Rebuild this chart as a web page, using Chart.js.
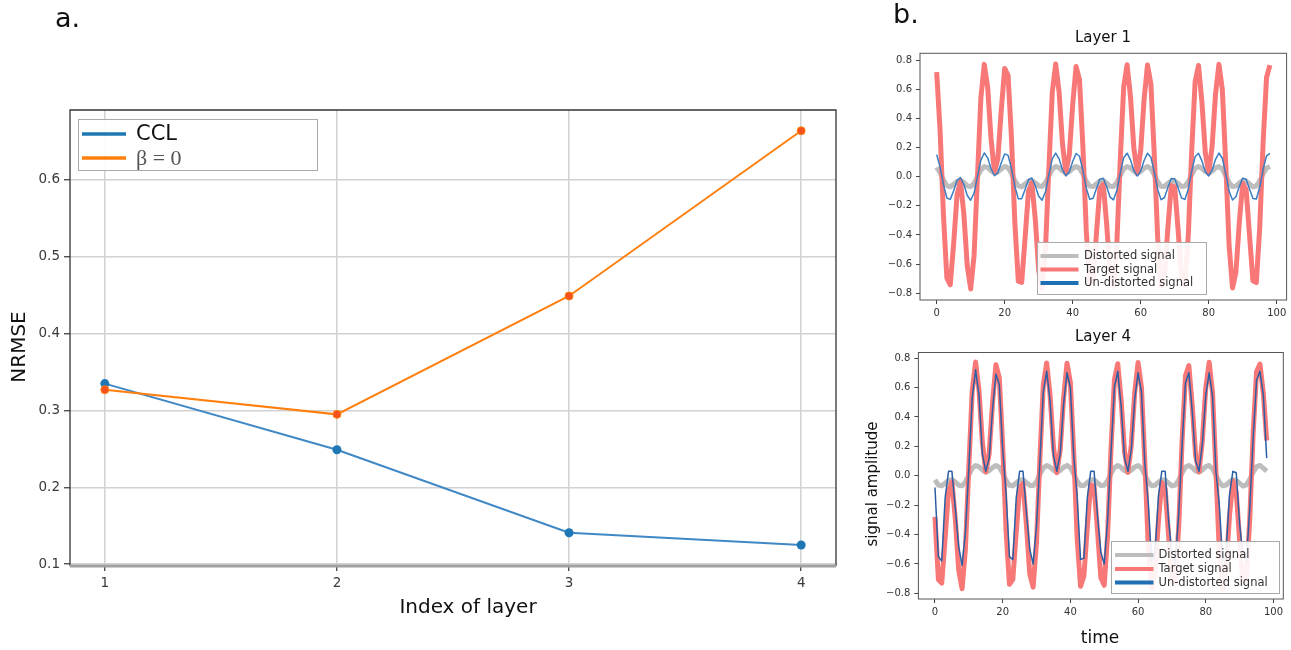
<!DOCTYPE html>
<html>
<head>
<meta charset="utf-8">
<script src="https://cdn.jsdelivr.net/npm/chart.js@4.4.0/dist/chart.umd.min.js"></script>
<style>
  body { margin: 0; background: #fff; }
  #wrap { position: relative; width: 1291px; height: 650px; overflow: hidden; font-family: 'DejaVu Sans', sans-serif; }
  canvas { position: absolute; }
  .panel-tag { position: absolute; color: #111; font-size: 27px; }
</style>
</head>
<body>
<div id="wrap">
  <canvas id="nrmse" width="860" height="650" style="left:0;top:0"></canvas>
  <canvas id="layer1" width="431" height="325" style="left:860px;top:0"></canvas>
  <canvas id="layer4" width="431" height="325" style="left:860px;top:325px"></canvas>
  <div class="panel-tag" style="left:55px;top:2px">a.</div>
  <div class="panel-tag" style="left:893px;top:-2px">b.</div>
</div>
<script>
// ---- panel a: NRMSE per layer ----
const layerIndex = [1, 2, 3, 4];
const nrmseCCL = [0.335, 0.249, 0.141, 0.125];
const nrmseBeta0 = [0.327, 0.295, 0.449, 0.664];
const nrmseTicks = [0.1, 0.2, 0.3, 0.4, 0.5, 0.6];

// ---- panel b: signals over time ----
const timeSteps = Array.from({ length: 99 }, (_, i) => i);
const timeTicks = [0, 20, 40, 60, 80, 100];
const ampTicks = [-0.8, -0.6, -0.4, -0.2, 0, 0.2, 0.4, 0.6, 0.8];

const target1 = [
  0.717, 0.319, -0.264, -0.695, -0.742, -0.458, -0.124, -0.030, -0.258, -0.612,
  -0.770, -0.540, 0.000, 0.540, 0.770, 0.612, 0.258, 0.030, 0.124, 0.458,
  0.742, 0.695, 0.264, -0.319, -0.717, -0.725, -0.421, -0.100, -0.041, -0.293,
  -0.642, -0.768, -0.496, 0.060, 0.580, 0.773, 0.581, 0.225, 0.025, 0.150,
  0.495, 0.755, 0.666, 0.207, -0.374, -0.738, -0.705, -0.385, -0.079, -0.052,
  -0.330, -0.669, -0.757, -0.449, 0.120, 0.617, 0.767, 0.547, 0.193, 0.021,
  0.179, 0.530, 0.765, 0.635, 0.148, -0.424, -0.752, -0.682, -0.347, -0.061,
  -0.070, -0.366, -0.694, -0.745, -0.399, 0.179, 0.651, 0.762, 0.512, 0.164,
  0.023, 0.209, 0.565, 0.770, 0.599, 0.089, -0.474, -0.763, -0.655, -0.312,
  -0.046, -0.088, -0.403, -0.715, -0.727, -0.347, 0.236, 0.680, 0.765
];
const undistorted1 = [
  0.151, 0.067, -0.055, -0.146, -0.156, -0.096, -0.026, -0.006, -0.054, -0.129,
  -0.162, -0.113, 0.000, 0.113, 0.162, 0.129, 0.054, 0.006, 0.026, 0.096,
  0.156, 0.146, 0.055, -0.067, -0.151, -0.152, -0.088, -0.021, -0.009, -0.062,
  -0.135, -0.161, -0.104, 0.013, 0.122, 0.162, 0.122, 0.047, 0.005, 0.032,
  0.104, 0.159, 0.140, 0.043, -0.079, -0.155, -0.148, -0.081, -0.017, -0.011,
  -0.069, -0.140, -0.159, -0.094, 0.025, 0.130, 0.161, 0.115, 0.041, 0.004,
  0.038, 0.111, 0.161, 0.133, 0.031, -0.089, -0.158, -0.143, -0.073, -0.013,
  -0.015, -0.077, -0.146, -0.156, -0.084, 0.038, 0.137, 0.160, 0.108, 0.034,
  0.005, 0.044, 0.119, 0.162, 0.126, 0.019, -0.100, -0.160, -0.138, -0.066,
  -0.010, -0.018, -0.085, -0.150, -0.153, -0.073, 0.050, 0.143, 0.160
];
const distorted1 = [
  0.063, 0.028, -0.023, -0.061, -0.070, -0.053, -0.032, -0.026, -0.040, -0.063,
  -0.069, -0.046, 0.000, 0.046, 0.069, 0.063, 0.040, 0.026, 0.032, 0.053,
  0.070, 0.061, 0.023, -0.028, -0.063, -0.069, -0.051, -0.031, -0.026, -0.043,
  -0.064, -0.068, -0.042, 0.005, 0.050, 0.070, 0.061, 0.039, 0.025, 0.034,
  0.056, 0.070, 0.058, 0.018, -0.032, -0.065, -0.068, -0.049, -0.029, -0.027,
  -0.045, -0.066, -0.067, -0.039, 0.010, 0.053, 0.070, 0.059, 0.037, 0.025,
  0.036, 0.058, 0.070, 0.055, 0.012, -0.036, -0.066, -0.067, -0.046, -0.028,
  -0.029, -0.047, -0.067, -0.065, -0.034, 0.015, 0.056, 0.070, 0.057, 0.035,
  0.025, 0.038, 0.060, 0.070, 0.052, 0.007, -0.041, -0.068, -0.065, -0.044,
  -0.027, -0.030, -0.050, -0.069, -0.064, -0.030, 0.020, 0.059, 0.070
];

const target4 = [
  -0.280, -0.705, -0.730, -0.421, -0.100, -0.041, -0.293, -0.642, -0.768, -0.496,
  0.060, 0.580, 0.773, 0.581, 0.225, 0.025, 0.150, 0.495, 0.755, 0.666,
  0.207, -0.374, -0.738, -0.705, -0.385, -0.079, -0.052, -0.330, -0.669, -0.757,
  -0.449, 0.120, 0.617, 0.767, 0.547, 0.193, 0.021, 0.179, 0.530, 0.765,
  0.635, 0.148, -0.424, -0.752, -0.682, -0.347, -0.061, -0.070, -0.366, -0.694,
  -0.745, -0.399, 0.179, 0.651, 0.762, 0.512, 0.164, 0.023, 0.209, 0.565,
  0.770, 0.599, 0.089, -0.474, -0.763, -0.655, -0.312, -0.046, -0.088, -0.403,
  -0.715, -0.727, -0.347, 0.236, 0.680, 0.749, 0.476, 0.136, 0.027, 0.242,
  0.597, 0.772, 0.562, 0.030, -0.518, -0.769, -0.628, -0.276, -0.035, -0.112,
  -0.439, -0.735, -0.707, -0.292, 0.292, 0.707, 0.760, 0.560, 0.240
];
const undistorted4 = [
  -0.08, -0.55, -0.58, -0.15, 0.03, 0.03, -0.22, -0.48, -0.61, -0.38,
  0.05, 0.53, 0.72, 0.55, 0.15, 0.03, 0.12, 0.45, 0.69, 0.62,
  0.18, -0.12, -0.55, -0.57, -0.15, 0.03, 0.03, -0.25, -0.50, -0.60,
  -0.34, 0.10, 0.57, 0.71, 0.51, 0.14, 0.03, 0.15, 0.49, 0.70,
  0.60, 0.13, -0.14, -0.57, -0.56, -0.15, 0.03, 0.03, -0.27, -0.52,
  -0.60, -0.30, 0.16, 0.60, 0.71, 0.47, 0.12, 0.03, 0.18, 0.52,
  0.70, 0.57, 0.08, -0.18, -0.58, -0.53, -0.14, 0.03, 0.03, -0.30,
  -0.54, -0.59, -0.26, 0.21, 0.63, 0.70, 0.44, 0.10, 0.03, 0.22,
  0.55, 0.70, 0.54, 0.03, -0.20, -0.58, -0.52, -0.13, 0.03, 0.02,
  -0.33, -0.55, -0.58, -0.22, 0.26, 0.65, 0.71, 0.55, 0.12
];
const distorted4 = [
  -0.028, -0.063, -0.069, -0.051, -0.031, -0.026, -0.043, -0.064, -0.068, -0.042,
  0.005, 0.050, 0.070, 0.061, 0.039, 0.025, 0.034, 0.056, 0.070, 0.058,
  0.018, -0.032, -0.065, -0.068, -0.049, -0.029, -0.027, -0.045, -0.066, -0.067,
  -0.039, 0.010, 0.053, 0.070, 0.059, 0.037, 0.025, 0.036, 0.058, 0.070,
  0.055, 0.012, -0.036, -0.066, -0.067, -0.046, -0.028, -0.029, -0.047, -0.067,
  -0.065, -0.034, 0.015, 0.056, 0.070, 0.057, 0.035, 0.025, 0.038, 0.060,
  0.070, 0.052, 0.007, -0.041, -0.068, -0.065, -0.044, -0.027, -0.030, -0.050,
  -0.069, -0.064, -0.030, 0.020, 0.059, 0.070, 0.055, 0.033, 0.025, 0.040,
  0.062, 0.070, 0.048, 0.003, -0.044, -0.069, -0.064, -0.042, -0.026, -0.032,
  -0.052, -0.070, -0.062, -0.025, 0.025, 0.062, 0.070, 0.052, 0.032
];

Chart.defaults.font.family = "'DejaVu Sans', sans-serif";
Chart.defaults.animation = false;

const signalColors = { distorted: '#bdbdbd', target: '#f87878', undistorted: '#1f6fb4' };

function xy(xs, ys) {
  return ys.map((y, i) => ({ x: xs[i], y }));
}

function fixedTicks(values) {
  return (scale) => { scale.ticks = values.map((v) => ({ value: v })); };
}

// ---------- panel a ----------
const frameA = {
  id: 'frameA',
  afterDatasetsDraw(chart) {
    const { ctx, chartArea: a } = chart;
    ctx.save();
    ctx.strokeStyle = '#333';
    ctx.lineWidth = 1.3;
    ctx.beginPath();
    ctx.moveTo(a.left, a.bottom);
    ctx.lineTo(a.left, a.top);
    ctx.lineTo(a.right, a.top);
    ctx.lineTo(a.right, a.bottom);
    ctx.stroke();
    ctx.strokeStyle = '#a0a0a0';
    ctx.lineWidth = 3;
    ctx.beginPath();
    ctx.moveTo(a.left, a.bottom);
    ctx.lineTo(a.right, a.bottom);
    ctx.stroke();
    ctx.restore();
  },
  afterDraw(chart) {
    const ctx = chart.ctx;
    ctx.save();
    // legend
    ctx.fillStyle = 'rgba(255,255,255,0.9)';
    ctx.fillRect(78.5, 119.5, 239, 51);
    ctx.strokeStyle = '#aaa';
    ctx.lineWidth = 1;
    ctx.strokeRect(78.5, 119.5, 239, 51);
    ctx.lineWidth = 3.5;
    ctx.strokeStyle = '#1f77b4';
    ctx.beginPath(); ctx.moveTo(82, 134); ctx.lineTo(126, 134); ctx.stroke();
    ctx.strokeStyle = '#ff7f0e';
    ctx.beginPath(); ctx.moveTo(82, 158); ctx.lineTo(126, 158); ctx.stroke();
    ctx.textBaseline = 'middle';
    ctx.textAlign = 'left';
    ctx.fillStyle = '#111';
    ctx.font = "21px 'DejaVu Sans'";
    ctx.fillText('CCL', 136, 135);
    ctx.fillStyle = '#555';
    ctx.font = "22px 'Liberation Serif'";
    ctx.fillText('\u03b2 = 0', 136, 159);
    // axis titles
    ctx.fillStyle = '#111';
    ctx.textAlign = 'center';
    ctx.font = "20px 'DejaVu Sans'";
    ctx.fillText('Index of layer', 468, 608);
    ctx.translate(20, 347);
    ctx.rotate(-Math.PI / 2);
    ctx.fillText('NRMSE', 0, 0);
    ctx.restore();
  }
};

new Chart(document.getElementById('nrmse'), {
  type: 'line',
  data: {
    datasets: [
      {
        label: 'CCL',
        data: xy(layerIndex, nrmseCCL),
        borderColor: '#3f88c5',
        borderWidth: 2,
        pointRadius: 4.5,
        pointBackgroundColor: '#1f77b4',
        pointBorderWidth: 0,
        order: 1
      },
      {
        label: '\u03b2 = 0',
        data: xy(layerIndex, nrmseBeta0),
        borderColor: '#ff7f0e',
        borderWidth: 2,
        pointRadius: 4,
        pointBackgroundColor: '#f4511e',
        pointBorderColor: '#ff7f0e',
        pointBorderWidth: 1,
        order: 0
      }
    ]
  },
  options: {
    responsive: false,
    layout: { padding: { left: 0, top: 110, right: 24, bottom: 0 } },
    plugins: { legend: { display: false }, tooltip: { enabled: false } },
    scales: {
      x: {
        type: 'linear',
        min: 0.85,
        max: 4.15,
        afterBuildTicks: fixedTicks(layerIndex),
        afterFit: (s) => { s.height = 84; },
        border: { display: false },
        grid: { color: '#d2d2d2', lineWidth: 1.5, tickLength: 5, tickColor: '#333', tickWidth: 1.2 },
        ticks: { color: '#3a3a3a', font: { size: 13.5 }, padding: 4, maxRotation: 0, callback: (v) => String(v) }
      },
      y: {
        min: 0.0977,
        max: 0.691,
        afterBuildTicks: fixedTicks(nrmseTicks),
        afterFit: (s) => { s.width = 70; },
        border: { display: false },
        grid: { color: '#d2d2d2', lineWidth: 1.5, tickLength: 6, tickColor: '#333', tickWidth: 1.2 },
        ticks: { color: '#3a3a3a', font: { size: 13.5 }, padding: 4, callback: (v) => v.toFixed(1) }
      }
    }
  },
  plugins: [frameA]
});

// ---------- panel b ----------
function signalLegend(ctx, box, lineX0, lineX1, textX, rowYs) {
  ctx.save();
  ctx.fillStyle = 'rgba(255,255,255,0.9)';
  ctx.fillRect(box.x, box.y, box.w, box.h);
  ctx.strokeStyle = '#aaa';
  ctx.lineWidth = 1;
  ctx.strokeRect(box.x, box.y, box.w, box.h);
  const rows = [
    ['Distorted signal', signalColors.distorted],
    ['Target signal', signalColors.target],
    ['Un-distorted signal', signalColors.undistorted]
  ];
  ctx.font = "11.5px 'DejaVu Sans'";
  ctx.textBaseline = 'middle';
  ctx.textAlign = 'left';
  rows.forEach(([name, color], i) => {
    ctx.strokeStyle = color;
    ctx.lineWidth = 4;
    ctx.beginPath();
    ctx.moveTo(lineX0, rowYs[i]);
    ctx.lineTo(lineX1, rowYs[i]);
    ctx.stroke();
    ctx.fillStyle = '#333';
    ctx.fillText(name, textX, rowYs[i] + 0.5);
  });
  ctx.restore();
}

function frameB(ctx, a) {
  ctx.save();
  ctx.strokeStyle = '#555';
  ctx.lineWidth = 1;
  ctx.strokeRect(a.left, a.top, a.right - a.left, a.bottom - a.top);
  ctx.restore();
}

function signalChart(canvasId, target, undistorted, distorted, box, extra) {
  return new Chart(document.getElementById(canvasId), {
    type: 'line',
    data: {
      datasets: [
        { label: 'Un-distorted signal', data: xy(timeSteps, undistorted), borderColor: box.blue, borderWidth: 1.5, order: 0 },
        { label: 'Target signal', data: xy(timeSteps, target), borderColor: signalColors.target, borderWidth: 5, order: 1 },
        { label: 'Distorted signal', data: xy(timeSteps, distorted), borderColor: signalColors.distorted, borderWidth: 5, order: 2 }
      ]
    },
    options: {
      responsive: false,
      elements: { point: { radius: 0 }, line: { tension: 0, borderJoinStyle: 'round', borderCapStyle: 'butt' } },
      layout: { padding: { left: 0, top: box.top, right: box.right, bottom: 0 } },
      plugins: { legend: { display: false }, tooltip: { enabled: false } },
      scales: {
        x: {
          type: 'linear',
          min: -4.9,
          max: 102.9,
          afterBuildTicks: fixedTicks(timeTicks),
          afterFit: (s) => { s.height = box.axisH; },
          border: { display: false },
          grid: { drawOnChartArea: false, tickLength: 4, tickColor: '#444' },
          ticks: { color: '#333', font: { size: 10 }, padding: 3, maxRotation: 0 }
        },
        y: {
          min: -box.ylim,
          max: box.ylim,
          afterBuildTicks: fixedTicks(ampTicks),
          afterFit: (s) => { s.width = box.axisW; },
          border: { display: false },
          grid: { drawOnChartArea: false, tickLength: 4, tickColor: '#444' },
          ticks: { color: '#333', font: { size: 10 }, padding: 4, callback: (v) => v.toFixed(1).replace('-', '\u2212') }
        }
      }
    },
    plugins: [{
      id: 'decor-' + canvasId,
      afterDraw(chart) {
        frameB(chart.ctx, chart.chartArea);
        extra(chart.ctx);
      }
    }]
  });
}

signalChart('layer1', target1, undistorted1, distorted1,
  { top: 53.3, right: 4.4, axisH: 25, axisW: 60, ylim: 0.846, blue: '#3a7dc0' },
  (ctx) => {
    ctx.save();
    ctx.fillStyle = '#111';
    ctx.font = "15px 'DejaVu Sans'";
    ctx.textAlign = 'center';
    ctx.textBaseline = 'middle';
    ctx.fillText('Layer 1', 243, 38);
    ctx.restore();
    signalLegend(ctx, { x: 177.5, y: 242.5, w: 169, h: 52 }, 180.5, 218.5, 224, [256, 269.5, 283]);
  });

signalChart('layer4', target4, undistorted4, distorted4,
  { top: 27.5, right: 7.7, axisH: 51, axisW: 58.4, ylim: 0.838, blue: '#2a5fa5' },
  (ctx) => {
    ctx.save();
    ctx.fillStyle = '#111';
    ctx.textAlign = 'center';
    ctx.textBaseline = 'middle';
    ctx.font = "15px 'DejaVu Sans'";
    ctx.fillText('Layer 4', 243, 12);
    ctx.font = "17px 'DejaVu Sans'";
    ctx.fillText('time', 240, 314);
    ctx.font = "15px 'DejaVu Sans'";
    ctx.translate(13, 159);
    ctx.rotate(-Math.PI / 2);
    ctx.fillText('signal amplitude', 0, 0);
    ctx.restore();
    signalLegend(ctx, { x: 251.5, y: 216.5, w: 168, h: 52 }, 255, 293.5, 298.5, [230, 244, 257.5]);
  });
</script>
</body>
</html>
